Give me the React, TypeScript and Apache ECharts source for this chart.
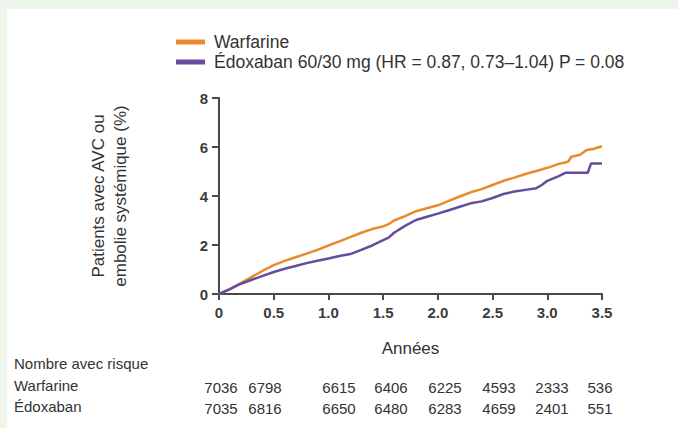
import React, { useEffect, useRef } from "react";
import * as echarts from "echarts";

// ---- Data ----
const warfarineTimes = [0, 0.1, 0.2, 0.3, 0.4, 0.5, 0.6, 0.7, 0.8, 0.9, 1.0, 1.1, 1.2, 1.3, 1.4, 1.5, 1.55, 1.6, 1.7, 1.8, 1.9, 2.0, 2.1, 2.2, 2.3, 2.4, 2.5, 2.6, 2.7, 2.8, 2.9, 3.0, 3.1, 3.19, 3.22, 3.3, 3.36, 3.42, 3.5];
const warfarineValues = [0, 0.2, 0.45, 0.7, 0.95, 1.18, 1.35, 1.5, 1.65, 1.8, 1.98, 2.15, 2.32, 2.5, 2.65, 2.76, 2.85, 3.0, 3.18, 3.38, 3.5, 3.62, 3.8, 3.98, 4.15, 4.28, 4.45, 4.62, 4.75, 4.9, 5.02, 5.15, 5.3, 5.4, 5.6, 5.68, 5.88, 5.92, 6.03];

const edoxabanTimes = [0, 0.1, 0.2, 0.3, 0.4, 0.5, 0.6, 0.7, 0.8, 0.9, 1.0, 1.1, 1.2, 1.3, 1.4, 1.5, 1.55, 1.6, 1.7, 1.8, 1.9, 2.0, 2.1, 2.2, 2.3, 2.4, 2.5, 2.6, 2.7, 2.8, 2.9, 2.95, 3.0, 3.1, 3.17, 3.37, 3.4, 3.5];
const edoxabanValues = [0, 0.2, 0.42, 0.58, 0.74, 0.9, 1.03, 1.14, 1.26, 1.36, 1.45, 1.55, 1.63, 1.8, 1.98, 2.2, 2.3, 2.5, 2.78, 3.02, 3.15, 3.28, 3.42, 3.56, 3.7, 3.78, 3.92, 4.08, 4.18, 4.25, 4.32, 4.45, 4.62, 4.8, 4.95, 4.95, 5.33, 5.33];

const seriesNames = ["Warfarine", "Édoxaban"];
const legendLabels = ["Warfarine", "Édoxaban 60/30 mg (HR = 0.87, 0.73–1.04) P = 0.08"];

const riskTitle = "Nombre avec risque";
const riskWarfarine = ["7036", "6798", "6615", "6406", "6225", "4593", "2333", "536"];
const riskEdoxaban = ["7035", "6816", "6650", "6480", "6283", "4659", "2401", "551"];

const yAxisTitle = "Patients avec AVC ou\nembolie systémique (%)";
const xAxisTitle = "Années";

// ---- Layout (positions only) ----
const riskColumnCenters = [221, 265, 339, 391, 445, 499, 552, 600];
const riskRowsY = [365, 387, 408];

const ORANGE = "#E8892C";
const PURPLE = "#654C9E";
const TEXT = "#333333";
const FONT = "'Liberation Sans', Arial, sans-serif";

export default function App() {
  const ref = useRef<HTMLDivElement>(null);

  useEffect(() => {
    if (!ref.current) return;
    const chart = echarts.init(ref.current, undefined, { renderer: "svg" });

    const graphics: any[] = [
      { type: "rect", left: 0, top: 0, shape: { width: 678, height: 9 }, style: { fill: "#EEF5EA" }, silent: true },
      { type: "rect", left: 0, top: 0, shape: { width: 7, height: 428 }, style: { fill: "#EEF5EA" }, silent: true },
      {
        type: "text", left: 14, top: riskRowsY[0] - 9,
        style: { text: riskTitle, fill: TEXT, font: `15px ${FONT}` },
      },
      {
        type: "text", left: 14, top: riskRowsY[1] - 9,
        style: { text: seriesNames[0], fill: TEXT, font: `15px ${FONT}` },
      },
      {
        type: "text", left: 14, top: riskRowsY[2] - 9,
        style: { text: seriesNames[1], fill: TEXT, font: `15px ${FONT}` },
      },
    ];
    riskWarfarine.forEach((v, i) => {
      graphics.push({
        type: "text", x: riskColumnCenters[i], y: riskRowsY[1],
        style: { text: v, fill: TEXT, font: `15px ${FONT}`, align: "center", verticalAlign: "middle" },
      });
    });
    riskEdoxaban.forEach((v, i) => {
      graphics.push({
        type: "text", x: riskColumnCenters[i], y: riskRowsY[2],
        style: { text: v, fill: TEXT, font: `15px ${FONT}`, align: "center", verticalAlign: "middle" },
      });
    });

    const option: any = {
      animation: false,
      backgroundColor: "#ffffff",
      grid: { left: 219, right: 76, top: 98, bottom: 134, containLabel: false },
      legend: {
        left: 176,
        top: 33,
        padding: 0,
        orient: "vertical",
        icon: "rect",
        itemWidth: 29,
        itemHeight: 5,
        itemGap: 2,
        selectedMode: false,
        data: seriesNames,
        formatter: (name: string) => legendLabels[seriesNames.indexOf(name)],
        textStyle: { color: TEXT, fontSize: 17.5, fontFamily: FONT, lineHeight: 18, padding: [0, 0, 0, 4] },
      },
      xAxis: {
        type: "value",
        min: 0,
        max: 3.5,
        interval: 0.5,
        name: xAxisTitle,
        nameLocation: "middle",
        nameGap: 46,
        nameTextStyle: { color: TEXT, fontSize: 17, fontFamily: FONT },
        axisLine: { show: true, lineStyle: { color: "#4a4a4a", width: 2 } },
        axisTick: { show: true, length: 6, lineStyle: { color: "#4a4a4a", width: 2 } },
        axisLabel: {
          color: "#3c3c3c", fontSize: 15, fontWeight: "bold", fontFamily: FONT, margin: 11,
          formatter: (v: number) => (v === 0 ? "0" : v.toFixed(1)),
        },
        splitLine: { show: false },
      },
      yAxis: {
        type: "value",
        min: 0,
        max: 8,
        interval: 2,
        name: yAxisTitle,
        nameLocation: "middle",
        nameRotate: 90,
        nameGap: 88,
        nameTextStyle: { color: TEXT, fontSize: 17, fontFamily: FONT, lineHeight: 22, align: "center" },
        axisLine: { show: true, lineStyle: { color: "#4a4a4a", width: 2 } },
        axisTick: { show: true, length: 7, lineStyle: { color: "#4a4a4a", width: 2 } },
        axisLabel: { color: "#3c3c3c", fontSize: 15, fontWeight: "bold", fontFamily: FONT, margin: 11 },
        splitLine: { show: false },
      },
      series: [
        {
          name: seriesNames[0],
          type: "line",
          showSymbol: false,
          symbol: "none",
          color: ORANGE,
          lineStyle: { color: ORANGE, width: 2.5 },
          data: warfarineTimes.map((t, i) => [t, warfarineValues[i]]),
          z: 3,
        },
        {
          name: seriesNames[1],
          type: "line",
          showSymbol: false,
          symbol: "none",
          color: PURPLE,
          lineStyle: { color: PURPLE, width: 2.5 },
          data: edoxabanTimes.map((t, i) => [t, edoxabanValues[i]]),
          z: 4,
        },
      ],
      graphic: graphics,
    };

    chart.setOption(option);
    return () => chart.dispose();
  }, []);

  return (
    <div style={{ position: "absolute", left: 0, top: 0, width: 678, height: 428, background: "#fff" }}>
      <div ref={ref} style={{ width: 678, height: 428 }} />
    </div>
  );
}
